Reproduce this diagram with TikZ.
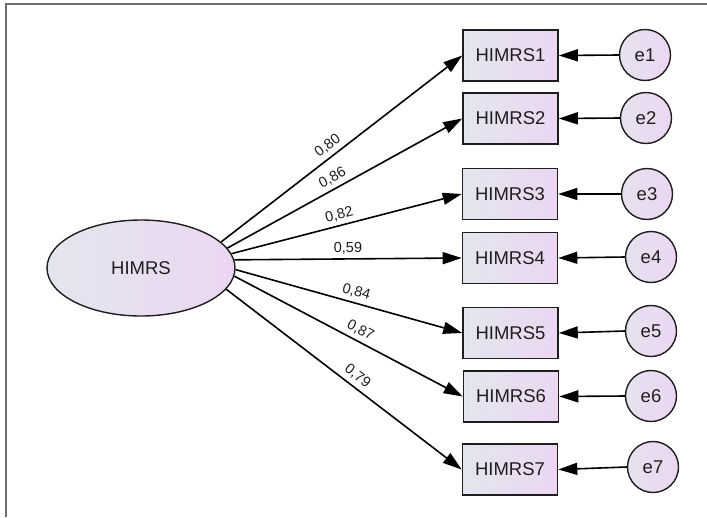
\documentclass[tikz,border=0pt]{standalone}
\usepackage{fontspec}
\setmainfont{Liberation Sans}
\usetikzlibrary{arrows.meta,shapes.geometric}

\definecolor{fillL}{HTML}{E3E6EE}
\definecolor{fillR}{HTML}{ECD6F1}
\definecolor{frameC}{HTML}{6E6E6E}
\definecolor{inkC}{HTML}{1E1E1E}

\tikzset{
  obsbox/.style={draw=inkC, line width=1.6pt, rectangle, minimum width=95pt,
    minimum height=51pt, inner sep=0pt, left color=fillL, right color=fillR,
    font=\fontsize{18.5}{20}\selectfont, text=inkC},
  latent/.style={draw=inkC, line width=1.4pt, ellipse, minimum width=188pt,
    minimum height=96pt, inner sep=0pt, left color=fillL, right color=fillR,
    font=\fontsize{18.5}{20}\selectfont, text=inkC},
  errc/.style={draw=inkC, line width=1.4pt, circle, minimum size=51pt,
    inner sep=0pt, left color=fillL!70!fillR, right color=fillR,
    font=\fontsize{18.5}{20}\selectfont, text=inkC},
  arr/.style={draw=black, line width=1.6pt,
    -{Triangle[length=19pt,width=12pt]}},
  lab/.style={sloped, above=2.5pt, inner sep=1.5pt, text=inkC,
    font=\fontsize{14.5}{16}\selectfont}
}

\begin{document}
\begin{tikzpicture}[x=1pt, y=-1pt]
  \useasboundingbox (0,0) rectangle (707,517);

  % open frame: top and left edges
  \draw[frameC, line width=2pt] (5.5,517) -- (5.5,4.3) -- (707,4.3);

  % latent factor
  \node[latent] (ell) at (141,268) {HIMRS};

  % indicators
  \node[obsbox] (b1) at (510.5,55.5)  {HIMRS1};
  \node[obsbox] (b2) at (510.5,118.5) {HIMRS2};
  \node[obsbox] (b3) at (510,194)     {HIMRS3};
  \node[obsbox] (b4) at (510,258)     {HIMRS4};
  \node[obsbox] (b5) at (510.5,333)   {HIMRS5};
  \node[obsbox] (b6) at (511,396.5)   {HIMRS6};
  \node[obsbox] (b7) at (510,469.5)   {HIMRS7};

  % error terms
  \node[errc] (e1) at (645,55)  {e1};
  \node[errc] (e2) at (646,118) {e2};
  \node[errc] (e3) at (647,194) {e3};
  \node[errc] (e4) at (651,257) {e4};
  \node[errc] (e5) at (651,331) {e5};
  \node[errc] (e6) at (651,396) {e6};
  \node[errc] (e7) at (653,467) {e7};

  % factor loadings
  \draw[arr] (ell.18)   -- node[lab, pos=0.47] {0,80} (b1.west);
  \draw[arr] (ell.13.5) -- node[lab, pos=0.47] {0,86} (b2.west);
  \draw[arr] (ell.9.5)  -- node[lab, pos=0.48] {0,82} (b3.west);
  \draw[arr] (ell.5)    -- node[lab, pos=0.50] {0,59} (b4.west);
  \draw[arr] (ell.-1)   -- node[lab, pos=0.52] {0,84} (b5.west);
  \draw[arr] (ell.-5)   -- node[lab, pos=0.53] {0,87} (b6.west);
  \draw[arr] (ell.-14.5)-- node[lab, pos=0.53] {0,79} (b7.west);

  % error paths
  \draw[arr] (e1.west) -- (b1.east);
  \draw[arr] (e2.west) -- (b2.east);
  \draw[arr] (e3.west) -- (b3.east);
  \draw[arr] (e4.west) -- (b4.east);
  \draw[arr] (e5.west) -- (b5.east);
  \draw[arr] (e6.west) -- (b6.east);
  \draw[arr] (e7.west) -- (b7.east);
\end{tikzpicture}
\end{document}
